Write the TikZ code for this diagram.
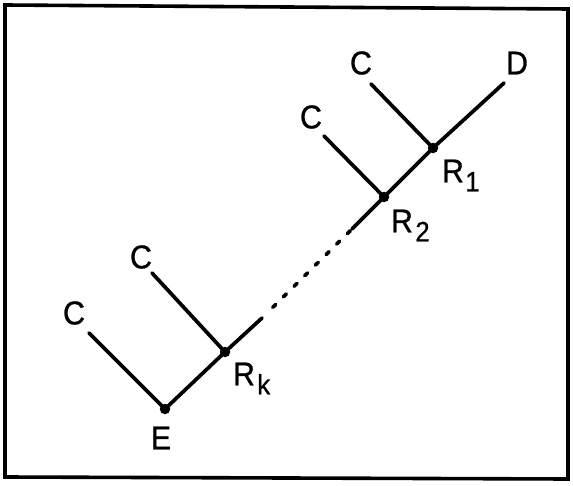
\documentclass[tikz,border=0pt]{standalone}
\usepackage{fontspec}
\setmainfont{Liberation Sans}[FakeStretch=0.92,FakeBold=0.8]
\usetikzlibrary{calc}
\begin{document}
\begin{tikzpicture}[x=1pt,y=-1pt,
  wire/.style={line width=3.7pt,line cap=round},
  joint/.style={circle,fill=black,inner sep=0pt,minimum size=10.5pt},
  lbl/.style={inner sep=0pt,font=\fontsize{33}{33}\selectfont},
  sub/.style={inner sep=0pt,anchor=base west,font=\fontsize{28}{28}\selectfont}]
  \useasboundingbox (0,0) rectangle (573,486);
  % frame
  \draw[line width=3.6pt] (5,5) -- (568,9) -- (568,479) -- (5,477) -- cycle;

  % junction points
  \node[joint] (E)  at (165,409) {};
  \node[joint] (Rk) at (225,352) {};
  \node[joint] (R2) at (384,197) {};
  \node[joint] (R1) at (433,148) {};
  \coordinate (D)  at (504,83);
  \coordinate (gapA) at (262,318);
  \coordinate (gapB) at (352,229);

  % branch ends
  \coordinate (c0) at (89,333);
  \coordinate (c1) at (152,273);
  \coordinate (c2) at (324,136);
  \coordinate (c3) at (371,84);

  % main chain
  \draw[wire] (E.center) -- (Rk.center) -- (gapA);
  \draw[wire,dash pattern=on 4pt off 11pt] ($(gapA)!0.12!(gapB)$) -- (gapB);
  \draw[wire] (gapB) -- (R2.center) -- (R1.center) -- (D);

  % side branches
  \draw[wire] (c0) -- (E.center);
  \draw[wire] (c1) -- (Rk.center);
  \draw[wire] (c2) -- (R2.center);
  \draw[wire] (c3) -- (R1.center);

  % labels
  \node[lbl] (lc0) at (74,313) {C};
  \node[lbl] (lc1) at (141,257) {C};
  \node[lbl] (lc2) at (311,117) {C};
  \node[lbl] (lc3) at (361,63) {C};
  \node[lbl] (lD)  at (517,63) {D};
  \node[lbl] (lE)  at (161,438) {E};
  \node[lbl] (lRk) at (244,374) {R};
  \node[sub] (sRk) at ($(lRk.base east)+(2,9)$) {k};
  \node[lbl] (lR2) at (402,221) {R};
  \node[sub] (sR2) at ($(lR2.base east)+(2,9)$) {2};
  \node[lbl] (lR1) at (453,171) {R};
  \node[sub] (sR1) at ($(lR1.base east)+(1,9)$) {1};
\end{tikzpicture}
\end{document}
